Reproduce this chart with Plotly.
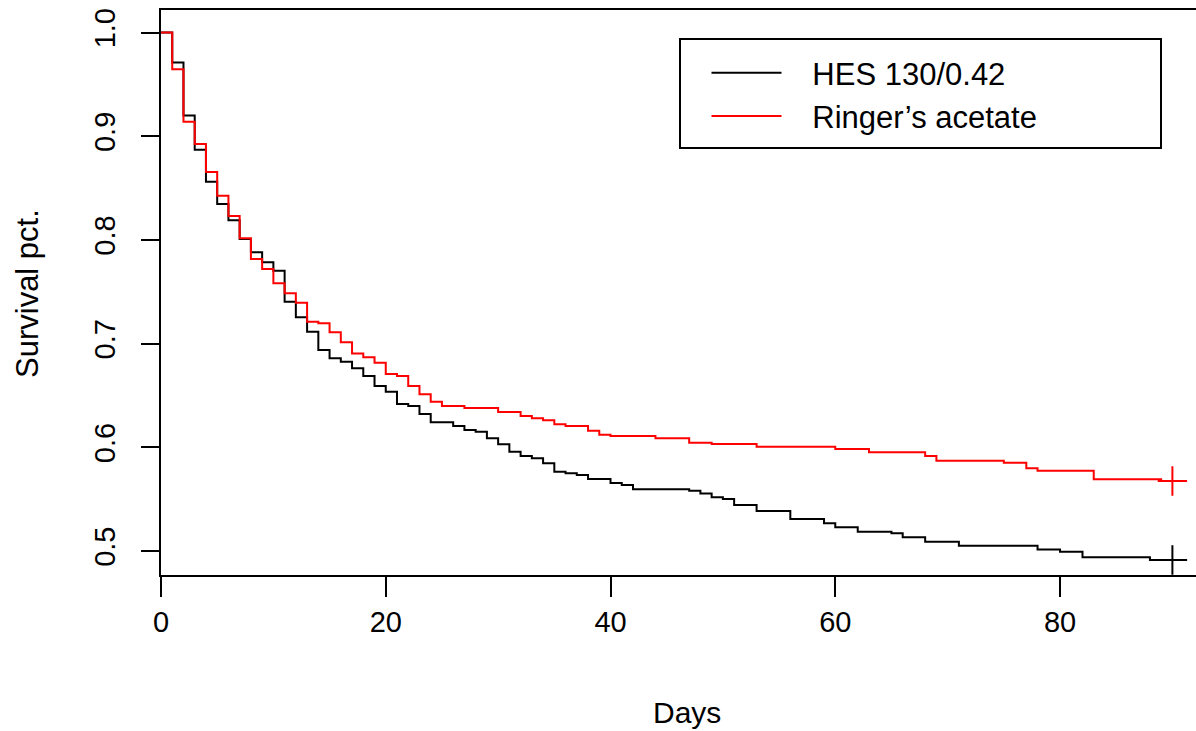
import plotly.graph_objects as go

# Kaplan-Meier step data
hes_days = [0, 1, 2, 3, 4, 5, 6, 7, 8, 9, 10, 11, 12, 13, 14, 15, 16, 17, 18, 19, 20,
            21, 22, 23, 24, 26, 27, 28, 29, 30, 31, 32, 33, 34, 35, 36, 37, 38, 40,
            41, 42, 47, 48, 49, 50, 51, 53, 56, 59, 60, 62, 65, 66, 68, 71, 78, 80,
            82, 88, 90]
hes_surv = [1.0, 0.971, 0.920, 0.887, 0.856, 0.8346, 0.819, 0.801, 0.788, 0.7784, 0.7703,
            0.7404, 0.7254, 0.7115, 0.6938, 0.6858, 0.6826, 0.6762, 0.6688, 0.6591, 0.6536,
            0.6418, 0.6398, 0.6321, 0.6241, 0.6205, 0.6167, 0.615, 0.6087, 0.6029, 0.5958,
            0.5916, 0.5894, 0.5846, 0.5765, 0.5749, 0.5733, 0.5694, 0.5656, 0.5637, 0.5597,
            0.5582, 0.5556, 0.5518, 0.5501, 0.5444, 0.5386, 0.5309, 0.5267, 0.5229, 0.5186,
            0.5171, 0.5132, 0.509, 0.5051, 0.5016, 0.4994, 0.494, 0.4913, 0.4913]

ra_days = [0, 1, 2, 3, 4, 5, 6, 7, 8, 9, 10, 11, 12, 13, 14, 15, 16, 17, 18, 19, 20,
           21, 22, 23, 24, 25, 27, 30, 32, 33, 34, 35, 36, 38, 39, 40, 44, 47, 49, 53,
           60, 63, 68, 69, 75, 77, 78, 83, 89, 90]
ra_surv = [1.0, 0.9645, 0.914, 0.8925, 0.8655, 0.8426, 0.823, 0.8015, 0.7816, 0.772, 0.7581,
           0.7485, 0.7394, 0.7211, 0.7196, 0.7109, 0.7013, 0.6906, 0.6868, 0.6816, 0.6707,
           0.6688, 0.6591, 0.6511, 0.644, 0.6398, 0.6379, 0.634, 0.6302, 0.628, 0.626,
           0.6222, 0.6205, 0.616, 0.6122, 0.6109, 0.6087, 0.6044, 0.6032, 0.6006, 0.5984,
           0.5952, 0.5916, 0.5871, 0.5852, 0.5798, 0.5774, 0.5692, 0.5675, 0.5675]

series_names = ["HES 130/0.42", "Ringer\u2019s acetate"]
series_colors = ["#000000", "#FF0000"]
x_ticks = [0, 20, 40, 60, 80]
y_ticks = [0.5, 0.6, 0.7, 0.8, 0.9, 1.0]
y_tick_labels = ["0.5", "0.6", "0.7", "0.8", "0.9", "1.0"]

FONT = "Arial, Liberation Sans, sans-serif"
PAD = "\u00a0\u00a0\u00a0"

fig = go.Figure()
for days, surv, name, col in [(hes_days, hes_surv, series_names[0], series_colors[0]),
                              (ra_days, ra_surv, series_names[1], series_colors[1])]:
    fig.add_trace(go.Scatter(x=days, y=surv, mode="lines", line=dict(color=col, width=2, shape="hv"),
                             name=PAD + name, showlegend=True))
for days, surv, col in [(hes_days, hes_surv, series_colors[0]), (ra_days, ra_surv, series_colors[1])]:
    fig.add_trace(go.Scatter(x=[days[-1]], y=[surv[-1]], mode="markers",
                             marker=dict(symbol="cross-thin", size=21, line=dict(color=col, width=2)),
                             showlegend=False, hoverinfo="skip"))

fig.update_layout(
    width=1196, height=731,
    margin=dict(l=161, r=0, t=10, b=156),
    paper_bgcolor="white", plot_bgcolor="white",
    font=dict(family=FONT, color="#000000", size=29),
    showlegend=True,
    legend=dict(x=(706.5 - 161) / 1035, y=(575 - 46) / 565, xanchor="left", yanchor="top",
                font=dict(size=31, family=FONT), bgcolor="rgba(0,0,0,0)",
                borderwidth=0, itemwidth=70, tracegroupgap=0),
    xaxis=dict(range=[0, 92.1], tickvals=x_ticks, showgrid=False, zeroline=False,
               showline=True, linecolor="#000000", linewidth=2, mirror=True,
               ticks="outside", ticklen=20, tickwidth=1.5, tickcolor="#000000",
               tickfont=dict(size=29), ticklabelstandoff=0),
    yaxis=dict(range=[0.4769, 1.0217], tickvals=y_ticks, ticktext=y_tick_labels,
               showgrid=False, zeroline=False,
               showline=True, linecolor="#000000", linewidth=2, mirror=False,
               ticks="outside", ticklen=18, tickwidth=1.5, tickcolor="#000000",
               tickangle=-90, tickfont=dict(size=29), ticklabelstandoff=14),
    shapes=[dict(type="rect", xref="paper", yref="paper",
                 x0=(680 - 161) / 1035, x1=(1161 - 161) / 1035,
                 y0=(575 - 148) / 565, y1=(575 - 39) / 565,
                 line=dict(color="#000000", width=2), fillcolor="rgba(0,0,0,0)")],
    annotations=[
        dict(text="Days", xref="paper", yref="paper", x=(687 - 161) / 1035, y=(575 - 712) / 565,
             xanchor="center", yanchor="middle", showarrow=False, font=dict(size=30, family=FONT)),
        dict(text="Survival pct.", xref="paper", yref="paper", x=(28 - 161) / 1035, y=(575 - 294) / 565,
             xanchor="center", yanchor="middle", textangle=-90, showarrow=False,
             font=dict(size=31, family=FONT)),
    ],
)

fig.write_html("out.html")
